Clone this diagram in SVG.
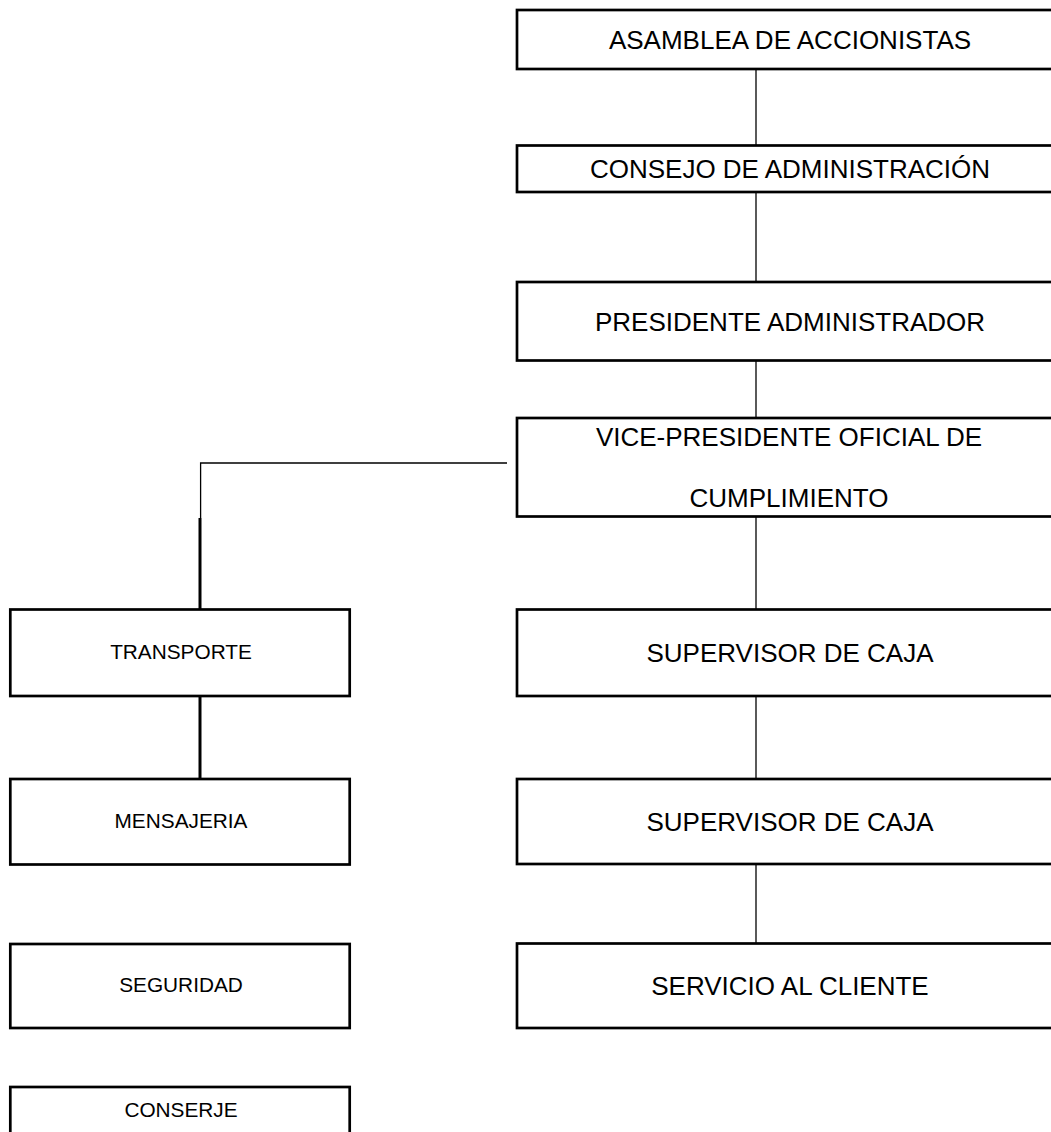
<svg xmlns="http://www.w3.org/2000/svg" width="1051" height="1132" viewBox="0 0 1051 1132">
<style>
.box{fill:#fff;stroke:#000;stroke-width:2.7}
.tr{font-family:"Liberation Sans",Arial,sans-serif;font-size:26px;fill:#000;text-anchor:middle}
.tl{font-family:"Liberation Sans",Arial,sans-serif;font-size:20.8px;fill:#000;text-anchor:middle}
.thin{stroke:#000;stroke-width:1.3;fill:none}
.thick{stroke:#000;stroke-width:3;fill:none}
</style>
<rect width="1051" height="1132" fill="#fff"/>
<g id="connectors">
<line class="thin" x1="756" y1="69" x2="756" y2="145.5"/>
<line class="thin" x1="756" y1="192" x2="756" y2="282"/>
<line class="thin" x1="756" y1="360.5" x2="756" y2="418"/>
<line class="thin" x1="756" y1="516.5" x2="756" y2="609.5"/>
<line class="thin" x1="756" y1="696" x2="756" y2="779"/>
<line class="thin" x1="756" y1="864" x2="756" y2="943.5"/>
<polyline class="thin" points="507,463 200.6,463 200.6,518"/>
<line class="thick" x1="200" y1="518" x2="200" y2="611"/>
<line class="thick" x1="200" y1="696" x2="200" y2="779"/>
</g>
<g id="asamblea"><rect class="box" x="517" y="10" width="560" height="59"/><text class="tr" x="790" y="48.5">ASAMBLEA DE ACCIONISTAS</text></g>
<g id="consejo"><rect class="box" x="517" y="145.5" width="560" height="46.5"/><text class="tr" x="790" y="177.5">CONSEJO DE ADMINISTRACIÓN</text></g>
<g id="presidente"><rect class="box" x="517" y="282" width="560" height="78.5"/><text class="tr" x="790" y="330.5">PRESIDENTE ADMINISTRADOR</text></g>
<g id="vicepresidente"><rect class="box" x="517" y="418" width="560" height="98.5"/><text class="tr" x="789" y="446">VICE-PRESIDENTE OFICIAL DE</text><text class="tr" x="789" y="507">CUMPLIMIENTO</text></g>
<g id="supervisor1"><rect class="box" x="517" y="609.5" width="560" height="86.5"/><text class="tr" x="790" y="662">SUPERVISOR DE CAJA</text></g>
<g id="supervisor2"><rect class="box" x="517" y="779" width="560" height="85"/><text class="tr" x="790" y="830.5">SUPERVISOR DE CAJA</text></g>
<g id="servicio"><rect class="box" x="517" y="943.5" width="560" height="84.5"/><text class="tr" x="790" y="994.5">SERVICIO AL CLIENTE</text></g>
<g id="transporte"><rect class="box" x="10.3" y="609.5" width="339.4" height="86.5"/><text class="tl" x="181" y="659">TRANSPORTE</text></g>
<g id="mensajeria"><rect class="box" x="10.3" y="779" width="339.4" height="85.5"/><text class="tl" x="181" y="828">MENSAJERIA</text></g>
<g id="seguridad"><rect class="box" x="10.3" y="944" width="339.4" height="84"/><text class="tl" x="181" y="992">SEGURIDAD</text></g>
<g id="conserje"><rect class="box" x="10.3" y="1087" width="339.4" height="80"/><text class="tl" x="181" y="1117">CONSERJE</text></g>
</svg>
